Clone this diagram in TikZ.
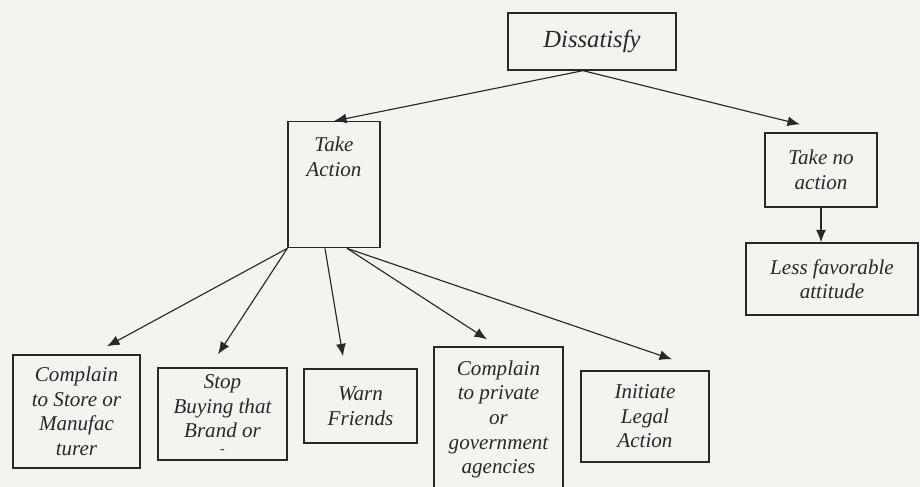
\documentclass[tikz,border=0pt]{standalone}
\usepackage{fontspec}
\setmainfont{Liberation Serif}
\usepackage{tikz}
\usetikzlibrary{arrows.meta}

\definecolor{paper}{RGB}{243,244,240}
\definecolor{ink}{RGB}{40,40,40}

\tikzset{
    box/.style={draw=ink, line width=0.75pt, align=center, inner sep=3pt,
        font=\fontsize{12}{14}\selectfont\itshape, text=ink},
    arr/.style={draw=ink, line width=0.65pt, -{Latex[length=2.5mm,width=2mm]}}
}

\begin{document}
\begin{tikzpicture}[x=0.02cm, y=-0.02cm]
    \fill[paper] (0,0) rectangle (920,487);
    \useasboundingbox (0,0) rectangle (920,487);
    % vertici
    \node[box, font=\fontsize{14}{16}\selectfont\itshape, minimum width=3.36cm, minimum height=1.14cm] (dis) at (592,41.5) {Dissatisfy};
    \node[box, anchor=north, minimum width=1.84cm, text height=0.99cm, text depth=1.32cm] (act) at (334,121) {Take\\Action};
    \node[box, minimum width=2.24cm, minimum height=1.48cm] (noact) at (821,170) {Take no\\action};
    \node[box, minimum width=3.44cm, minimum height=1.44cm] (less) at (832,279) {Less favorable\\attitude};
    \node[box, minimum width=2.54cm, minimum height=2.26cm] (store) at (76.5,411.5) {Complain\\to Store or\\Manufac\\turer};
    \node[box, minimum width=2.58cm, minimum height=1.84cm] (stop) at (222.5,414) {Stop\\Buying that\\Brand or\\[-5pt]{\footnotesize -}};
    \node[box, minimum width=2.26cm, minimum height=1.48cm] (warn) at (360.5,406) {Warn\\Friends};
    \node[box, minimum width=2.58cm, minimum height=2.9cm] (priv) at (498.5,419.5) {Complain\\to private\\or\\government\\agencies};
    \node[box, minimum width=2.56cm, minimum height=1.82cm] (legal) at (645,416.5) {Initiate\\Legal\\Action};
    % frecce
    \draw[arr] ([xshift=-0.18cm]dis.south) -- (act.north);
    \draw[arr] ([xshift=-0.18cm]dis.south) -- ([xshift=-0.42cm,yshift=0.16cm]noact.north);
    \draw[arr] (noact.south) -- (noact.south |- less.north);
    \draw[arr] (act.south west) -- ([xshift=0.61cm,yshift=0.16cm]store.north);
    \draw[arr] (act.south west) -- ([xshift=-0.09cm,yshift=0.26cm]stop.north);
    \draw[arr] ([xshift=-0.18cm]act.south) -- ([xshift=-0.35cm,yshift=0.24cm]warn.north);
    \draw[arr] ([xshift=0.26cm]act.south) -- ([xshift=-0.23cm,yshift=0.14cm]priv.north);
    \draw[arr] ([xshift=0.26cm]act.south) -- ([xshift=0.54cm,yshift=0.22cm]legal.north);
\end{tikzpicture}
\end{document}
